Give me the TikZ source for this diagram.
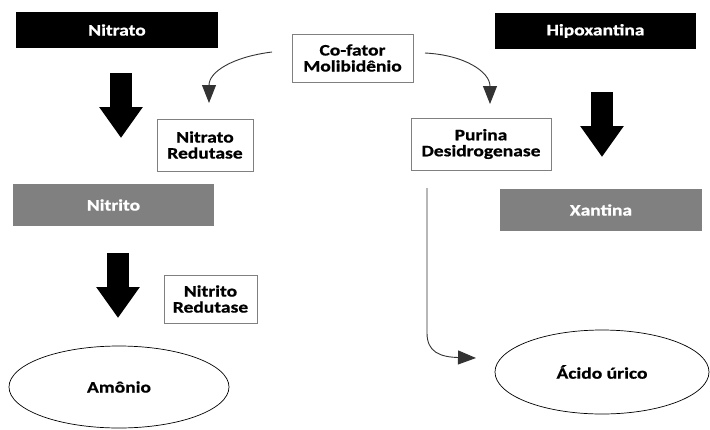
\documentclass[tikz,border=0pt]{standalone}
\usepackage{fontspec}
\setmainfont{Carlito}[FakeStretch=1.22, BoldFeatures={FakeBold=0.8}]
\usetikzlibrary{arrows.meta,shapes.geometric}
\tikzset{
  txt/.style={font=\fontsize{16}{16}\selectfont\bfseries, align=center, inner sep=0pt},
  darkbox/.style={txt, fill=black, text=white, minimum width=#1, minimum height=36pt},
  graybox/.style={txt, fill=gray!100, text=white, minimum width=#1, minimum height=42pt},
  labbox/.style={txt, draw=gray, line width=0.9pt, fill=white},
  oval/.style={txt, ellipse, draw=black, line width=0.7pt},
  blockarrow/.style={line width=21.5pt, black, -{Triangle[length=31pt,width=41.5pt]}},
  thinarrow/.style={draw=black!80, line width=0.9pt, -{Triangle[length=18pt,width=14pt]}},
}
\begin{document}
\begin{tikzpicture}[x=1pt,y=-1pt]
\useasboundingbox (0,0) rectangle (710,429);
% top / middle boxes
\node[darkbox=202pt] (nitrato) at (117,30) {Nitrato};
\node[darkbox=201pt] (hipox) at (595.5,31) {Hipoxantina};
\node[graybox=201pt] (nitrito) at (113.5,205) {Nitrito};
\node[graybox=202pt] (xantina) at (601,210) {Xantina};
% label boxes
\node[labbox, minimum width=121pt, minimum height=48pt] (cofator) at (352.5,58) {Co-fator\\Molibidênio};
\node[labbox, minimum width=96pt, minimum height=52pt] (nred) at (205,145) {Nitrato\\Redutase};
\node[labbox, minimum width=140pt, minimum height=52pt] (pdes) at (481,144) {Purina\\Desidrogenase};
\node[labbox, minimum width=93pt, minimum height=48pt] (nirred) at (210.5,299) {Nitrito\\Redutase};
% ellipses
\node[oval, minimum width=220pt, minimum height=82pt] (amonio) at (119,387) {Amônio};
\node[oval, minimum width=214pt, minimum height=84pt] (acido) at (602,372) {Ácido úrico};
% block arrow coordinates
\coordinate (a1s) at (121,73);  \coordinate (a1e) at (121,138);
\coordinate (a2s) at (602,92);  \coordinate (a2e) at (602,157);
\coordinate (a3s) at (118,253); \coordinate (a3e) at (118,318);
\draw[blockarrow] (a1s) -- (a1e);
\draw[blockarrow] (a2s) -- (a2e);
\draw[blockarrow] (a3s) -- (a3e);
% curved arrows from cofator
\coordinate (c1s) at (272,52); \coordinate (c1e) at (209,103);
\coordinate (c2s) at (425,53); \coordinate (c2e) at (490,104);
\draw[thinarrow] (c1s) .. controls (232,57) and (209,72) .. (c1e);
\draw[thinarrow] (c2s) .. controls (465,55) and (490,72) .. (c2e);
% line from purina to acido urico
\coordinate (ps) at (427,188); \coordinate (pb) at (427,333); \coordinate (pe) at (476,358);
\draw[thinarrow] (ps) -- (pb) .. controls (427,352) and (440,357) .. (pe);
\end{tikzpicture}
\end{document}
